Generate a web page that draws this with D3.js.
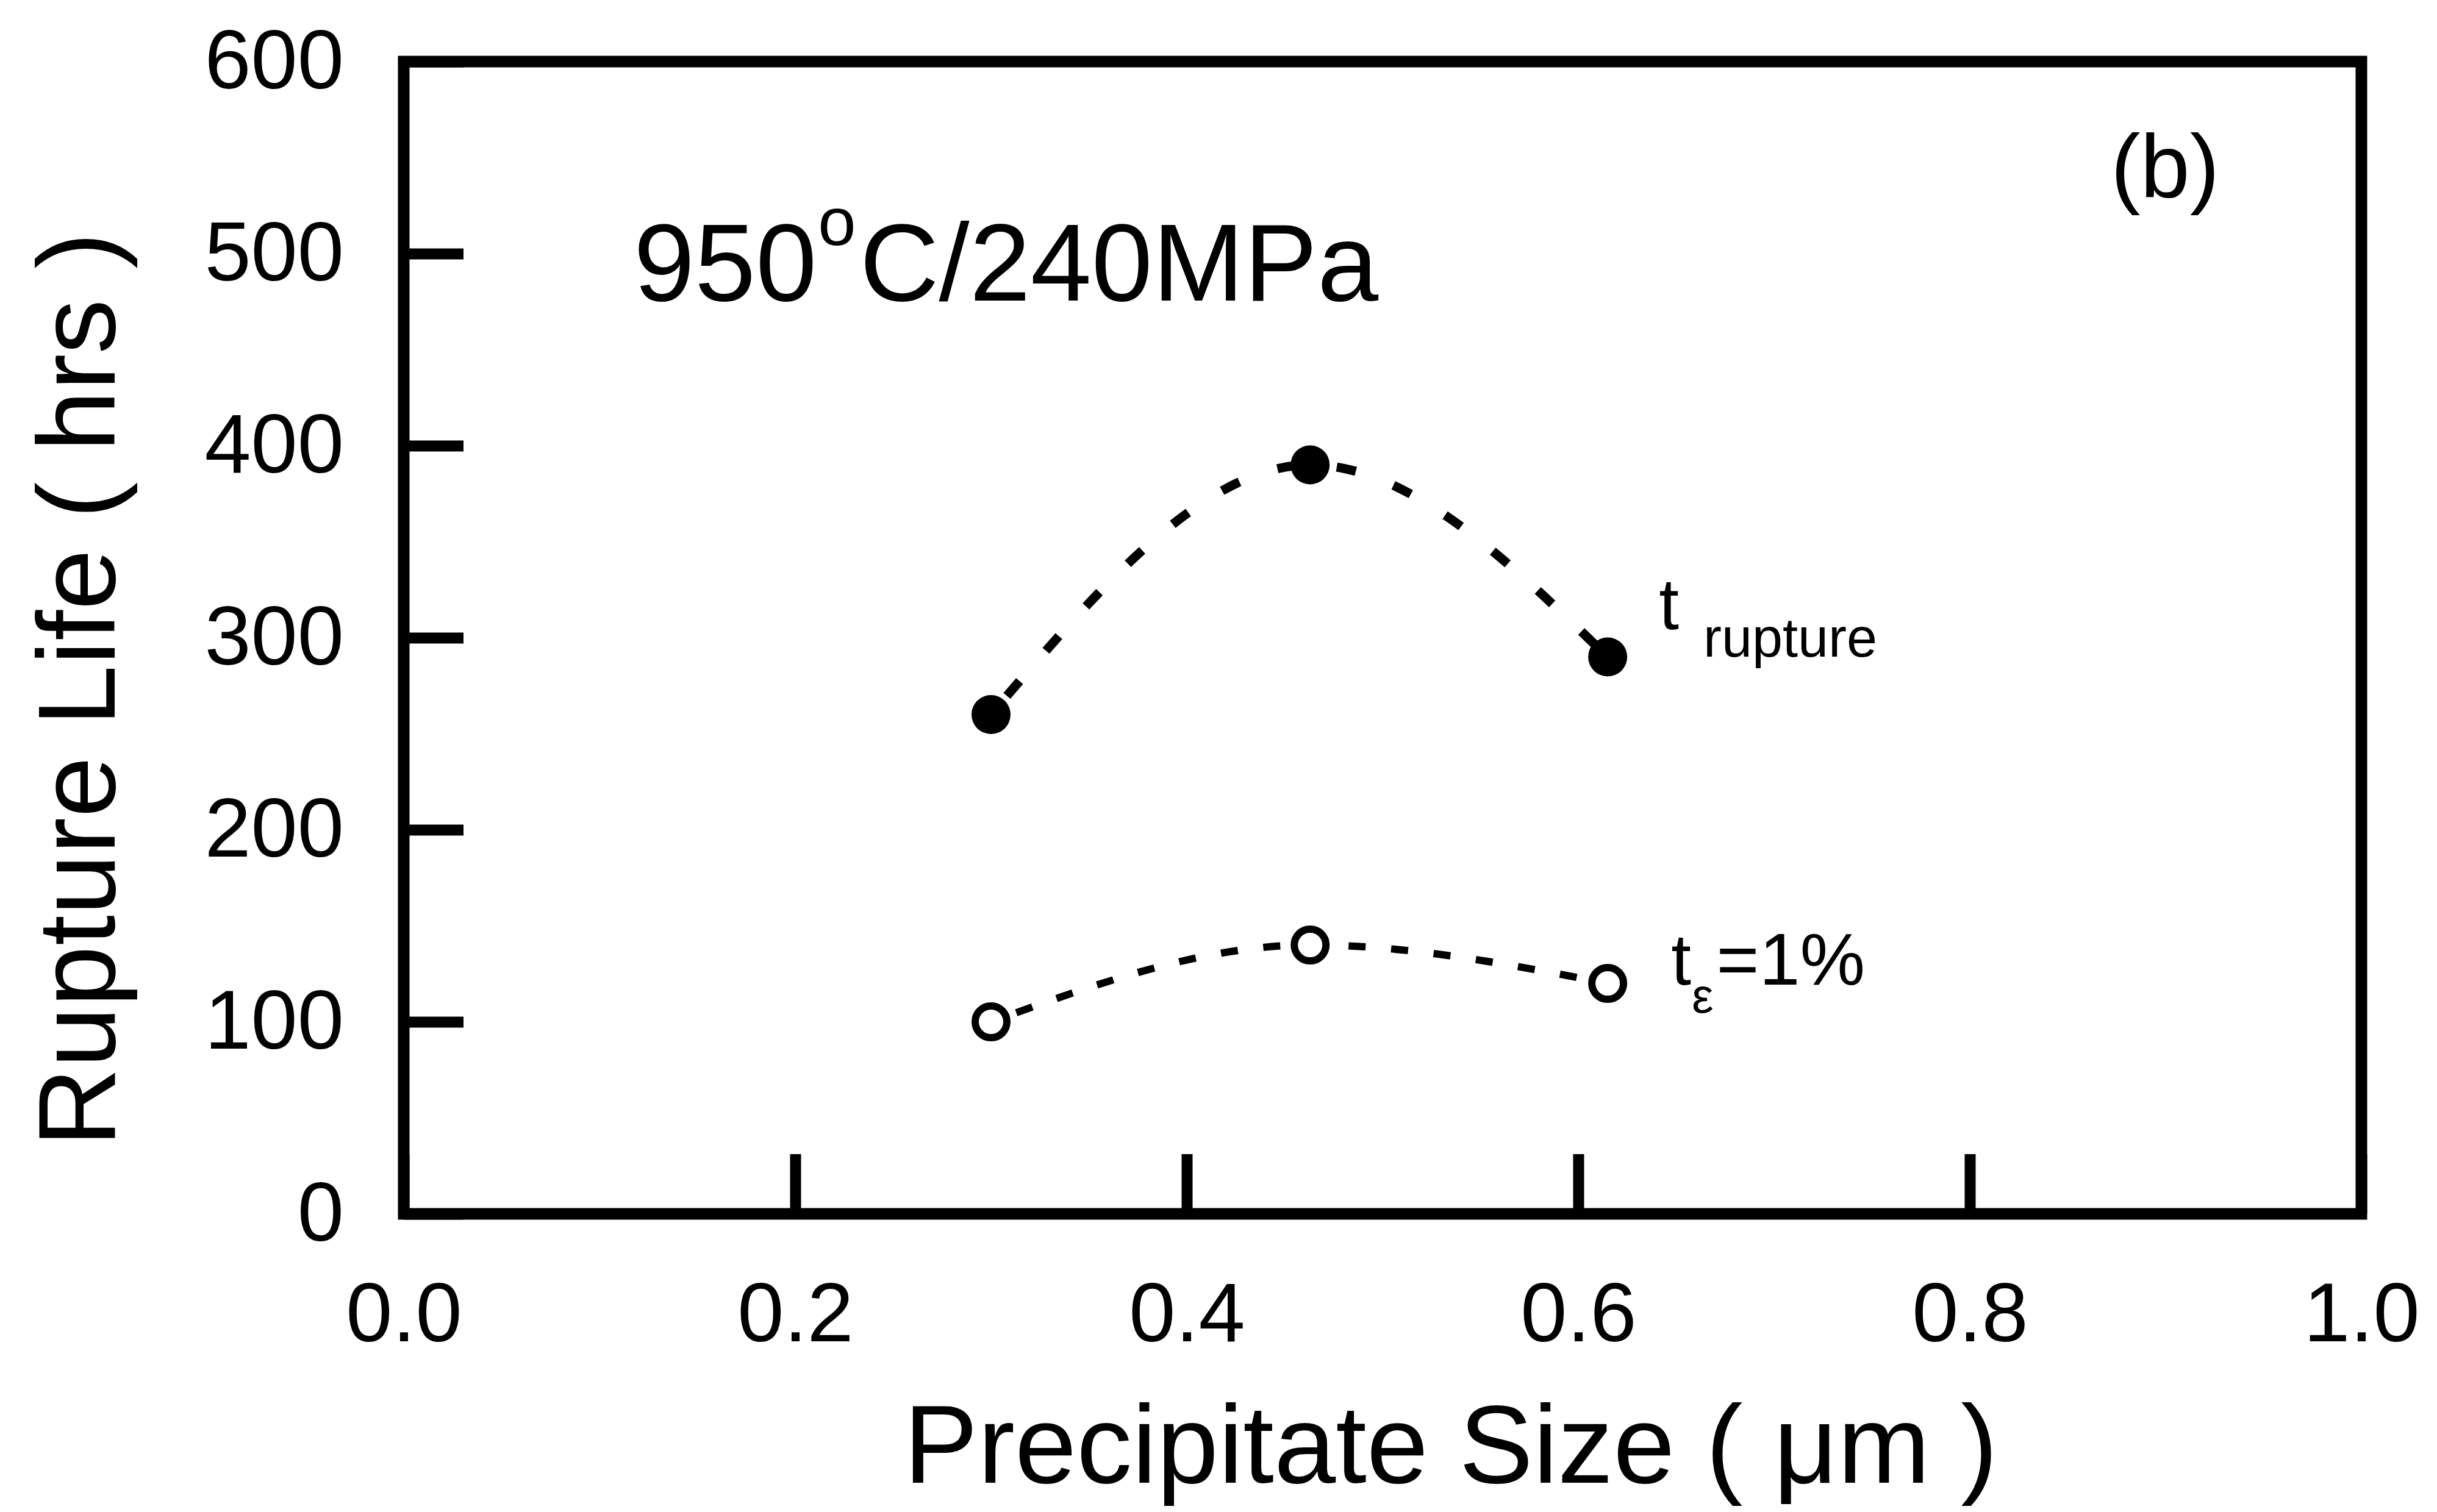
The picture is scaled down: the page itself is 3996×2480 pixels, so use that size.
<!DOCTYPE html>
<html>
<head>
<meta charset="utf-8">
<script src="https://cdn.jsdelivr.net/npm/d3@7"></script>
<style>
  body { margin: 0; background: #ffffff; }
</style>
</head>
<body>
<div id="chart"></div>
<script>
// Data
const sizes = [0.30, 0.463, 0.615];        // precipitate size (um)
const ruptureLife = [260, 390, 290];       // t rupture (hrs)
const strainLife = [100, 140, 120];        // t eps=1% (hrs)
const xTicks = [0.0, 0.2, 0.4, 0.6, 0.8, 1.0];
const yTicks = [0, 100, 200, 300, 400, 500, 600];

const font = "'Liberation Sans', Arial, sans-serif";

svg = d3.select('#chart')
    .append('svg')
    .attr("width", 3996)
    .attr("height", 2480);

// plot box
const boxL = 662, boxR = 3872, boxT = 101, boxB = 1991;

x = d3.scaleLinear().domain([0, 1]).range([boxL, boxR]);
y = d3.scaleLinear().domain([0, 600]).range([boxB, boxT]);

// Axes, ticks pointing into the box
xAxis = svg.append("g")
    .attr("transform", `translate(0 ${boxB})`)
    .call(d3.axisBottom(x).tickValues(xTicks).tickFormat(d3.format(".1f"))
        .tickSizeInner(-98).tickSizeOuter(0).tickPadding(112));

yAxis = svg.append("g")
    .attr("transform", `translate(${boxL} 0)`)
    .call(d3.axisLeft(y).tickValues(yTicks).tickFormat(d3.format("d"))
        .tickSizeInner(-98).tickSizeOuter(0).tickPadding(98));

[xAxis, yAxis].forEach(a => {
    a.select(".domain").remove();
    a.selectAll(".tick line")
        .style("stroke", "#000")
        .style("stroke-width", 18);
    a.selectAll(".tick text")
        .style("font-family", font)
        .style("font-size", "137px")
        .style("fill", "#000");
});

// Frame
svg.append("rect")
    .attr("x", boxL)
    .attr("y", boxT)
    .attr("width", boxR - boxL)
    .attr("height", boxB - boxT)
    .style("fill", "none")
    .style("stroke", "#000")
    .style("stroke-width", 19);

// Dashed curves
line = d3.line()
    .x(d => x(d[0]))
    .y(d => y(d[1]))
    .curve(d3.curveMonotoneX);

svg.append("path")
    .attr("d", line(d3.zip(sizes, ruptureLife)))
    .style("fill", "none")
    .style("stroke", "#000")
    .style("stroke-width", 15)
    .style("stroke-dasharray", "32 66")
    .style("stroke-dashoffset", -40);

svg.append("path")
    .attr("d", line(d3.zip(sizes, strainLife)))
    .style("fill", "none")
    .style("stroke", "#000")
    .style("stroke-width", 12)
    .style("stroke-dasharray", "28 42")
    .style("stroke-dashoffset", -44);

// Markers
svg.selectAll(".rupt")
    .data(d3.zip(sizes, ruptureLife))
    .join("circle")
    .attr("class", "rupt")
    .attr("cx", d => x(d[0]))
    .attr("cy", d => y(d[1]))
    .attr("r", 32)
    .style("fill", "#000");

svg.selectAll(".strain")
    .data(d3.zip(sizes, strainLife))
    .join("circle")
    .attr("class", "strain")
    .attr("cx", d => x(d[0]))
    .attr("cy", d => y(d[1]))
    .attr("r", 26)
    .style("fill", "#fff")
    .style("stroke", "#000")
    .style("stroke-width", 12);

// Series labels
lab1 = svg.append("text")
    .attr("x", x(sizes[2]) + 84)
    .attr("y", y(ruptureLife[2]) - 46)
    .style("font-family", font);
lab1.append("tspan").text("t").style("font-size", "118px");
lab1.append("tspan").text("rupture")
    .attr("dx", 40).attr("dy", 45)
    .style("font-size", "90px");

lab2 = svg.append("text")
    .attr("x", x(sizes[2]) + 104)
    .attr("y", y(strainLife[2]) + 2)
    .style("font-family", font);
lab2.append("tspan").text("t").style("font-size", "118px");
lab2.append("tspan").text("ε")
    .attr("dx", 1).attr("dy", 46)
    .style("font-size", "80px");
lab2.append("tspan").text("=1%")
    .attr("dx", 5).attr("dy", -46)
    .style("font-size", "120px");

// Test condition
cond = svg.append("text")
    .attr("x", 1039)
    .attr("y", 493)
    .style("font-family", font)
    .style("font-size", "180px");
cond.append("tspan").text("950");
cond.append("tspan").text("o")
    .attr("dx", 2).attr("dy", -91)
    .style("font-size", "112px");
cond.append("tspan").text("C/240MPa")
    .attr("dx", 6).attr("dy", 91);

// Panel letter
svg.append("text")
    .text("(b)")
    .attr("x", 3461)
    .attr("y", 323)
    .style("font-family", font)
    .style("font-size", "146px");

// Axis titles
svg.append("text")
    .text("Precipitate Size ( μm )")
    .attr("x", 2379)
    .attr("y", 2432)
    .attr("text-anchor", "middle")
    .style("font-family", font)
    .style("font-size", "182px");

svg.append("text")
    .text("Rupture Life ( hrs )")
    .attr("transform", "translate(188 1131) rotate(-90)")
    .attr("text-anchor", "middle")
    .style("font-family", font)
    .style("font-size", "180px");
</script>
</body>
</html>
